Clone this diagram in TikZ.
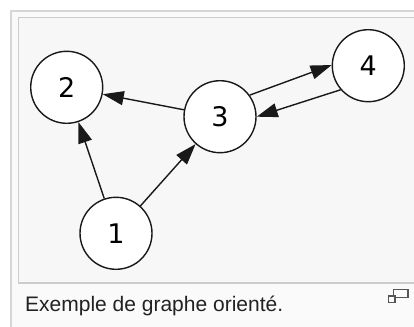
\documentclass[tikz,border=0pt]{standalone}
\usepackage{fontspec}
\setmainfont{Liberation Sans}
\newfontfamily\nodefont{DejaVu Sans}
\usetikzlibrary{arrows.meta}
\definecolor{outerborder}{HTML}{D6D6D6}
\definecolor{outerfill}{HTML}{FAFAFA}
\definecolor{innerborder}{HTML}{CCCCCC}
\definecolor{innerfill}{HTML}{F7F7F7}
\definecolor{captext}{HTML}{222222}
\definecolor{icon}{HTML}{555555}
\begin{document}
\begin{tikzpicture}[x=1pt,y=-1pt,
  vertex/.style={circle, draw=black!90, line width=1.4pt, fill=white,
    minimum size=72pt, inner sep=0pt, font=\nodefont\fontsize{27}{27}\selectfont},
  edge/.style={-{Triangle[length=21pt,width=14pt]}, line width=1.4pt, draw=black!90},
  frame/.style={line width=1.3pt}]
\useasboundingbox (0,0) rectangle (414,326);
\fill[white] (0,0) rectangle (414,326);
\draw[frame, draw=outerborder, line width=2pt, fill=outerfill] (11,11) rectangle (430,340);
\draw[frame, draw=innerborder, fill=innerfill] (18.5,17.5) rectangle (430,283);
\node[vertex] (n1) at (116,233.3) {1};
\node[vertex] (n2) at (66.7,87.3) {2};
\node[vertex] (n3) at (220,116.7) {3};
\node[vertex] (n4) at (368.3,65.7) {4};
\draw[edge] (n1) -- (n2);
\draw[edge] (n1) -- (n3);
\draw[edge] (n3) -- (n2);
\draw[edge] (n3.36) -- (n4.179);
\draw[edge] (n4.221) -- (n3.0);
\node[anchor=base west, inner sep=0pt, text=captext, font=\fontsize{21}{21}\selectfont] (cap) at (25,311) {Exemple de graphe orienté.};
\draw[icon, line width=1.3pt] (393.5,289.5) rectangle (408,297.5);
\draw[icon, line width=1.3pt, fill=outerfill] (388.5,296) rectangle (395,302.5);
\end{tikzpicture}
\end{document}
